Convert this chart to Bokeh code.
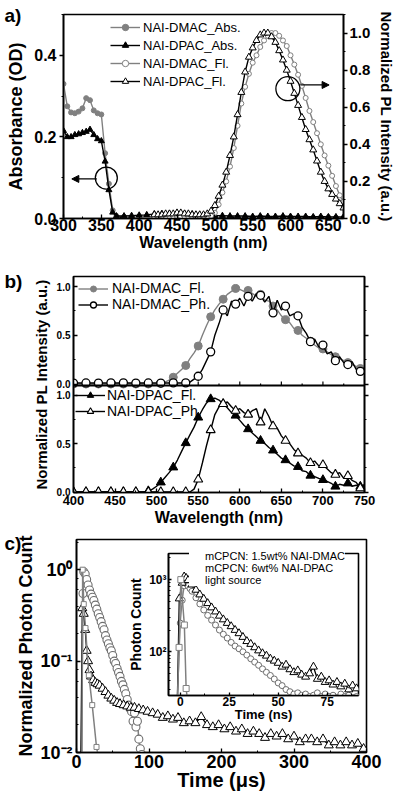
from bokeh.plotting import figure
from bokeh.models import (Range1d, LinearAxis, Legend, LegendItem, SingleIntervalTicker,
                          FixedTicker, CustomJSTickFormatter, NumeralTickFormatter, Arrow,
                          NormalHead, Span, GridBox, LogTicker, Column)
from bokeh.core.properties import value
from bokeh.embed import file_html
from bokeh.resources import INLINE

FONT = "Liberation Sans"
GRAY = "#808080"

# ---------------- panel a data ----------------
abs_wl = [300, 305, 310, 315, 320, 325, 330, 335, 340, 345, 350, 355, 360, 365, 370,
          380, 390, 400, 410, 420, 430, 440, 450, 460, 470, 480, 490, 500, 510, 520,
          530, 540, 550, 560, 570, 580, 590, 600, 610, 620, 630, 640, 650, 660, 670]
dmac_abs = [0.33, 0.275, 0.26, 0.258, 0.262, 0.27, 0.295, 0.29, 0.265, 0.258, 0.255, 0.16, 0.085, 0.02, 0.006,
            0.004, 0.003, 0.003, 0.003, 0.004, 0.003, 0.003, 0.004, 0.003, 0.003, 0.003, 0.002, 0.003, 0.003, 0.002,
            0.003, 0.002, 0.002, 0.003, 0.002, 0.002, 0.002, 0.003, 0.002, 0.002, 0.002, 0.002, 0.003, 0.002, 0.002]
dpac_abs = [0.215, 0.20, 0.20, 0.205, 0.207, 0.21, 0.213, 0.218, 0.205, 0.195, 0.19, 0.14, 0.07, 0.015, 0.006,
            0.006, 0.007, 0.008, 0.009, 0.011, 0.012, 0.012, 0.013, 0.012, 0.011, 0.009, 0.008, 0.007, 0.007, 0.006,
            0.006, 0.006, 0.005, 0.006, 0.005, 0.005, 0.006, 0.005, 0.005, 0.005, 0.004, 0.005, 0.004, 0.004, 0.004]
fl_wl = [420, 425, 430, 435, 440, 445, 450, 455, 460, 465, 470, 475, 480, 485, 490,
         495, 500, 505, 510, 515, 520, 525, 530, 535, 540, 545, 550, 555, 560, 565,
         570, 575, 580, 585, 590, 595, 600, 605, 610, 615, 620, 625, 630, 635, 640,
         645, 650, 655, 660, 665, 670]
dmac_fl = [0.01, 0.01, 0.01, 0.012, 0.012, 0.012, 0.012, 0.012, 0.01, 0.01, 0.01, 0.01, 0.01, 0.01, 0.012,
           0.015, 0.03, 0.075, 0.14, 0.20, 0.28, 0.38, 0.50, 0.62, 0.71, 0.78, 0.84, 0.88, 0.925, 0.96,
           0.985, 1.0, 1.0, 0.985, 0.96, 0.93, 0.88, 0.83, 0.775, 0.715, 0.65, 0.58, 0.52, 0.46, 0.40,
           0.34, 0.285, 0.23, 0.175, 0.125, 0.09]
dpac_fl = [0.02, 0.02, 0.02, 0.025, 0.025, 0.025, 0.03, 0.03, 0.025, 0.025, 0.02, 0.02, 0.02, 0.02, 0.025,
           0.04, 0.07, 0.12, 0.18, 0.25, 0.34, 0.44, 0.56, 0.68, 0.79, 0.87, 0.92, 0.96, 0.99, 1.0,
           1.0, 0.98, 0.95, 0.905, 0.855, 0.80, 0.74, 0.675, 0.61, 0.545, 0.48, 0.425, 0.37, 0.31, 0.25,
           0.20, 0.16, 0.13, 0.105, 0.08, 0.057]
ann_abs = dict(cx=356.6, cy=0.099, x0=344, x1=311, y=0.097)
ann_pl = dict(cx=596.5, cy=0.70, x0=613, x1=651, y=0.72)

# ---------------- panel b data ----------------
wl_b = list(range(400, 755, 5))
b_dmac_fl = [0, 0, 0, 0, 0, 0, 0, 0, 0, 0,
             0, 0, 0, 0, 0, 0, 0, 0, 0, 0,
             0, 0.005,
             0.02, 0.04, 0.07, 0.11, 0.15, 0.19, 0.26, 0.32, 0.39, 0.50,
             0.60, 0.69, 0.76, 0.82, 0.87, 0.92, 0.95, 0.98, 0.97, 0.95,
             0.96, 0.93, 0.90, 0.92, 0.86, 0.85, 0.80, 0.76, 0.70, 0.66,
             0.63, 0.57, 0.55, 0.50, 0.47, 0.44, 0.40, 0.37, 0.36, 0.33,
             0.30, 0.28, 0.26, 0.24, 0.22, 0.20, 0.18, 0.16, 0.15]
b_dmac_ph = [0.01, 0.012, 0.01, 0.011, 0.01, 0.012, 0.01, 0.011, 0.01, 0.012,
             0.01, 0.011, 0.012, 0.01, 0.011, 0.01, 0.012, 0.01, 0.011, 0.01,
             0.012, 0.01, 0.011, 0.01, 0.012, 0.01, 0.011, 0.012,
             0.02, 0.05, 0.08, 0.15, 0.24, 0.33, 0.50, 0.62, 0.76, 0.70,
             0.85, 0.82, 0.88, 0.80, 0.90, 0.85, 0.93, 0.91, 0.84, 0.90,
             0.73, 0.86, 0.76, 0.80, 0.70, 0.72, 0.70, 0.58, 0.52, 0.435,
             0.46, 0.38, 0.40, 0.31, 0.33, 0.24, 0.28, 0.22, 0.20, 0.23,
             0.15, 0.13, 0.17]
b_dpac_fl = [0, 0, 0, 0, 0, 0, 0, 0, 0, 0,
             0, 0, 0, 0, 0, 0, 0, 0,
             0.01, 0.03, 0.06, 0.10, 0.15, 0.20, 0.255, 0.33, 0.42, 0.506,
             0.59, 0.67, 0.77, 0.85, 0.92, 0.96, 0.97, 0.95, 0.91, 0.87,
             0.82, 0.79, 0.74, 0.69, 0.65, 0.61, 0.57, 0.53, 0.50, 0.46,
             0.43, 0.39, 0.35, 0.33, 0.30, 0.27, 0.26, 0.22, 0.21, 0.17,
             0.16, 0.14, 0.125, 0.11, 0.09, 0.057, 0.08, 0.07, 0.09, 0.06,
             0.07, 0.057, 0.05]
b_dpac_ph = [0, 0, 0, 0, 0, 0, 0, 0, 0, 0,
             0, 0, 0, 0, 0, 0, 0, 0, 0, 0,
             0, 0, 0, 0, 0, 0, 0, 0, 0,
             0.03, 0.13, 0.30, 0.48, 0.64, 0.80, 0.88, 0.91, 0.93, 0.88,
             0.84, 0.86, 0.82, 0.80, 0.84, 0.86, 0.72, 0.86, 0.78, 0.68,
             0.66, 0.58, 0.53, 0.50, 0.44, 0.40, 0.38, 0.35, 0.30, 0.32,
             0.27, 0.28, 0.24, 0.20, 0.18, 0.20, 0.14, 0.166, 0.12, 0.10,
             0.04, 0.08]
B_UP = (-0.015, 1.103)
B_LO = (-0.005, 1.10)
B_SPLIT = 107 / 216

# ---------------- panel c data ----------------
c_dmac_t = [7, 9, 10, 12, 14, 16, 18, 20, 22, 24, 26, 28, 30, 32, 34, 36, 38, 40, 42, 44, 46, 48,
            50, 52, 54, 56, 58, 60, 62, 64, 66, 68, 70, 72, 74, 76, 78, 80, 82, 84, 86, 88, 90]
c_dmac = [0.009, 0.55, 0.95,
          0.90, 0.78, 0.68, 0.60, 0.54, 0.50, 0.46, 0.41, 0.37, 0.33,
          0.30, 0.27, 0.24, 0.22, 0.19, 0.17, 0.155, 0.14, 0.13, 0.115,
          0.10, 0.094, 0.083, 0.075, 0.068, 0.06, 0.055, 0.049, 0.044, 0.038,
          0.033, 0.03, 0.028, 0.022, 0.027, 0.019, 0.022, 0.014, 0.011, 0.0095]
c_dpac_t = [6, 8, 10, 12, 14, 16, 18, 20, 23, 26, 29, 32, 36, 40, 44, 48, 52, 56, 60,
            65, 70, 75, 80, 86, 92, 98, 105, 112, 119, 126, 133, 140,
            148, 156, 164, 172, 180, 188, 196, 204, 212, 220, 228, 236, 244, 252, 260, 268,
            276, 284, 292, 300, 308, 316, 324, 332, 340, 348, 356, 364, 372, 380, 388, 396]
c_dpac = [0.009, 0.38, 0.33, 0.22, 0.13, 0.10, 0.08, 0.068,
          0.062, 0.058, 0.056, 0.054,
          0.05, 0.046, 0.042, 0.039, 0.037, 0.035, 0.034,
          0.033, 0.032, 0.031, 0.031,
          0.030, 0.029, 0.028,
          0.027, 0.026, 0.024, 0.025, 0.023, 0.024,
          0.021, 0.022, 0.021, 0.0245, 0.020, 0.019, 0.020, 0.018, 0.019, 0.017, 0.018, 0.016,
          0.017, 0.016, 0.0145, 0.016, 0.015, 0.016, 0.014, 0.015, 0.013, 0.014, 0.014, 0.013,
          0.014, 0.012, 0.013, 0.012, 0.013, 0.012, 0.0125, 0.011]
c_ls_t = [7.5, 8.5, 10, 12.4, 17, 21.7, 27.6, 30]
c_ls = [0.009, 1.0, 0.42, 0.23, 0.07, 0.033, 0.0115, 0.009]

i_dmac_t = [-1.5, 0, 1, 2, 3, 4, 5, 6, 8, 10, 12, 14, 16, 18, 20, 22, 24, 26, 28, 30, 32, 34, 36,
            38, 40, 42, 44, 46, 48, 50, 52, 54, 56, 58, 60, 62, 64, 66, 68, 70, 72, 74, 76, 78,
            80, 82, 84, 86, 88, 90]
i_dmac = [20, 250, 518, 820, 880, 820, 750, 690,
          560, 460, 380, 320, 275, 235, 200, 175, 155, 135,
          120, 110, 100, 90, 80, 72, 65, 58, 52, 47,
          42, 37, 34, 30, 28, 26, 27, 25, 26, 24,
          25, 27, 24, 26, 24, 25, 23, 26, 24, 25, 23, 24]
i_dpac_t = [-1.5, -0.5, 1, 2, 3, 4, 6, 8, 10, 12, 14, 16, 18, 20, 22, 24, 26, 28, 30, 32, 34, 36,
            38, 40, 42, 44, 46, 48, 50, 52, 54, 56, 58, 60, 62, 64, 66, 68, 70, 72, 74, 76, 78,
            80, 82, 84, 86, 88, 90]
i_dpac = [20, 546, 900, 1100, 1050, 980,
          850, 720, 620, 540, 470, 410, 360, 315, 280, 250,
          225, 200, 180, 160, 140, 128, 115, 104, 95, 88,
          80, 75, 70, 62, 66, 57, 52, 55, 48, 45,
          50, 62, 42, 45, 38, 40, 35, 38, 33, 36, 30, 34, 31]
i_ls_t = [-1.5, -0.6, 0.3, 2.1, 3.0, 4.0]
i_ls = [20, 115, 1000, 235, 31, 18]

# panel letters (page px from top-left)
letters = ["a)", "b)", "c)"]
letter_x = [4, 4, 4]
letter_y = [4, 270, 532]


def style_axis(ax, tick_size, tick_in=0, tick_out=4, minor_in=0, minor_out=2,
               standoff=2, label_size=None, label_standoff=3):
    ax.axis_line_width = 1.6
    ax.axis_line_color = "black"
    ax.major_tick_line_width = 1.3
    ax.minor_tick_line_width = 1.0
    ax.major_tick_line_color = "black"
    ax.minor_tick_line_color = "black"
    ax.major_tick_in = tick_in
    ax.major_tick_out = tick_out
    ax.minor_tick_in = minor_in
    ax.minor_tick_out = minor_out
    ax.major_label_text_font = FONT
    ax.major_label_text_font_style = "bold"
    ax.major_label_text_font_size = f"{tick_size}px"
    ax.major_label_text_color = "black"
    ax.major_label_standoff = standoff
    ax.axis_label_text_font = FONT
    ax.axis_label_text_font_style = "bold"
    ax.axis_label_text_color = "black"
    if label_size:
        ax.axis_label_text_font_size = f"{label_size}px"
    ax.axis_label_standoff = label_standoff


def base(p):
    p.xgrid.visible = False
    p.ygrid.visible = False
    p.outline_line_color = "black"
    p.outline_line_width = 1.6


sup_fmt = CustomJSTickFormatter(code="""
const e = Math.round(Math.log10(tick));
const m = {"-": "\\u207b", "0": "\\u2070", "1": "\\u00b9", "2": "\\u00b2", "3": "\\u00b3", "4": "\\u2074"};
return "10" + String(e).split("").map(c => m[c]).join("");
""")

# ================= panel a =================
pa = figure(frame_width=280, frame_height=204, x_range=Range1d(300, 670), y_range=Range1d(0, 0.5),
            output_backend="svg", toolbar_location=None,
            min_border_left=63, min_border_right=55, min_border_top=14, min_border_bottom=44)
base(pa)
pa.extra_y_ranges = {"pl": Range1d(0, 1.1)}
pa.xaxis.ticker = SingleIntervalTicker(interval=50, num_minor_ticks=2)
pa.yaxis.ticker = SingleIntervalTicker(interval=0.2, num_minor_ticks=2)
pa.yaxis.formatter = NumeralTickFormatter(format="0.0")
pa.xaxis.axis_label = "Wavelength (nm)"
pa.yaxis.axis_label = "Absorbance (OD)"
style_axis(pa.xaxis[0], 16, tick_in=4, tick_out=0, minor_in=2, minor_out=0, standoff=0,
           label_size=16, label_standoff=0)
style_axis(pa.yaxis[0], 16, tick_in=0, tick_out=4, standoff=3, label_size=18, label_standoff=5)
ra = LinearAxis(y_range_name="pl", ticker=SingleIntervalTicker(interval=0.2, num_minor_ticks=2),
                formatter=NumeralTickFormatter(format="0.0"),
                axis_label="Normalized PL Intensity (a.u.)")
style_axis(ra, 15, tick_in=0, tick_out=4, standoff=2, label_size=15, label_standoff=5)
pa.add_layout(ra, "right")

a1l = pa.line(abs_wl, dmac_abs, line_color=GRAY, line_width=1.4)
a1s = pa.scatter(abs_wl, dmac_abs, marker="circle", size=5, fill_color=GRAY, line_color=GRAY)
a2l = pa.line(abs_wl, dpac_abs, line_color="black", line_width=1.4)
a2s = pa.scatter(abs_wl, dpac_abs, marker="triangle", size=6, fill_color="black", line_color="black")
a3l = pa.line(fl_wl, dmac_fl, y_range_name="pl", line_color=GRAY, line_width=1.4)
a3s = pa.scatter(fl_wl, dmac_fl, y_range_name="pl", marker="circle", size=5,
                 fill_color="white", line_color=GRAY, line_width=1)
a4l = pa.line(fl_wl, dpac_fl, y_range_name="pl", line_color="black", line_width=1.4)
a4s = pa.scatter(fl_wl, dpac_fl, y_range_name="pl", marker="triangle", size=7,
                 fill_color="white", line_color="black", line_width=1)

pa.circle(x=[ann_abs["cx"]], y=[ann_abs["cy"]], radius=11, radius_units="screen",
          fill_color=None, line_color="black", line_width=1.3)
pa.add_layout(Arrow(end=NormalHead(size=7, fill_color="black", line_color="black"),
                    x_start=ann_abs["x0"], y_start=ann_abs["y"], x_end=ann_abs["x1"], y_end=ann_abs["y"],
                    line_width=1.3))
pa.circle(x=[ann_pl["cx"]], y=[ann_pl["cy"]], radius=12, radius_units="screen", y_range_name="pl",
          fill_color=None, line_color="black", line_width=1.3)
pa.add_layout(Arrow(end=NormalHead(size=7, fill_color="black", line_color="black"),
                    x_start=ann_pl["x0"], y_start=ann_pl["y"], x_end=ann_pl["x1"], y_end=ann_pl["y"],
                    y_range_name="pl", line_width=1.3))

pa.add_layout(Legend(items=[LegendItem(label="NAI-DMAC_Abs.", renderers=[a1l, a1s]),
                            LegendItem(label="NAI-DPAC_Abs.", renderers=[a2l, a2s]),
                            LegendItem(label="NAI-DMAC_Fl.", renderers=[a3l, a3s]),
                            LegendItem(label="NAI-DPAC_Fl.", renderers=[a4l, a4s])],
                     location=(47, 129), padding=0, margin=0, spacing=2, label_height=16, glyph_height=16,
                     glyph_width=30, label_standoff=3, border_line_color=None, background_fill_alpha=0,
                     label_text_font=FONT, label_text_font_size="13px", label_text_color="black"))

# ================= panel b =================
lo_span = (B_LO[1] - B_LO[0]) / B_SPLIT
up_span = (B_UP[1] - B_UP[0]) / (1 - B_SPLIT)
L0, L1 = B_LO[0], B_LO[0] + lo_span
U0, U1 = B_UP[1] - up_span, B_UP[1]


def up_to_lo(u):
    return L0 + (u - U0) / up_span * lo_span


pb = figure(frame_width=291, frame_height=216, x_range=Range1d(400, 750), y_range=Range1d(L0, L1),
            output_backend="svg", toolbar_location=None,
            min_border_left=73, min_border_right=34, min_border_top=14, min_border_bottom=38)
base(pb)
pb.extra_y_ranges = {"up": Range1d(U0, U1)}
tick_b = FixedTicker(ticks=[0, 0.5, 1.0] + [up_to_lo(u) for u in (0, 0.5, 1.0)],
                     minor_ticks=[0.25, 0.75] + [up_to_lo(u) for u in (0.25, 0.75)])
fmt_b = CustomJSTickFormatter(args=dict(split=B_LO[1], l0=L0, ls=lo_span, u0=U0, us=up_span), code="""
let v = tick;
if (tick > split) { v = u0 + (tick - l0) / ls * us; }
return (Math.round(v * 10) / 10).toFixed(1);
""")
pb.yaxis.ticker = tick_b
pb.yaxis.formatter = fmt_b
pb.yaxis.axis_label = "Normalized PL Intensity (a.u.)"
pb.xaxis.ticker = SingleIntervalTicker(interval=50, num_minor_ticks=2)
pb.xaxis.axis_label = "Wavelength (nm)"
style_axis(pb.xaxis[0], 13, tick_in=4, tick_out=0, minor_in=2, minor_out=0, standoff=3,
           label_size=16, label_standoff=1)
style_axis(pb.yaxis[0], 10, tick_in=4, tick_out=0, minor_in=2, minor_out=0, standoff=3,
           label_size=15, label_standoff=4)
rb = LinearAxis(ticker=tick_b, formatter=CustomJSTickFormatter(code="return '';"))
style_axis(rb, 10, tick_in=0, tick_out=4, minor_in=0, minor_out=2, standoff=0)
pb.add_layout(rb, "right")
pb.add_layout(Span(location=B_LO[1], dimension="width", line_color="black", line_width=2))
# tick marks of the upper sub-panel's wavelength axis, sitting on the divider line
sep_x = list(range(425, 750, 25))
sep_len = [4 / 97.5 if x % 50 == 0 else 2 / 97.5 for x in sep_x]
pb.segment(x0=sep_x, x1=sep_x, y0=[B_UP[0]] * len(sep_x), y1=[B_UP[0] + d for d in sep_len],
           y_range_name="up", line_color="black", line_width=1.2)

b1l = pb.line(wl_b, b_dmac_fl, y_range_name="up", line_color=GRAY, line_width=1.4)
b1s = pb.scatter(wl_b[::3], b_dmac_fl[::3], y_range_name="up", marker="circle", size=8,
                 fill_color=GRAY, line_color=GRAY)
b2l = pb.line(wl_b, b_dmac_ph, y_range_name="up", line_color="black", line_width=1.4)
b2s = pb.scatter(wl_b[::3], b_dmac_ph[::3], y_range_name="up", marker="circle", size=8,
                 fill_color="white", line_color="black", line_width=1.3)
b3l = pb.line(wl_b, b_dpac_fl, line_color="black", line_width=1.4)
b3s = pb.scatter(wl_b[::3], b_dpac_fl[::3], marker="triangle", size=9,
                 fill_color="black", line_color="black")
b4l = pb.line(wl_b, b_dpac_ph, line_color="black", line_width=1.4)
b4s = pb.scatter(wl_b[::3], b_dpac_ph[::3], marker="triangle", size=9,
                 fill_color="white", line_color="black", line_width=1.1)

leg_kw = dict(padding=0, margin=0, spacing=0, glyph_width=30, border_line_color=None,
              background_fill_alpha=0, label_text_font=FONT, label_text_font_size="14px",
              label_text_color="black")
pb.add_layout(Legend(items=[LegendItem(label="NAI-DMAC_Fl.", renderers=[b1l, b1s]),
                            LegendItem(label="NAI-DMAC_Ph.", renderers=[b2l, b2s])],
                     location=(5, 180), label_height=15, glyph_height=15, label_standoff=4, **leg_kw))
pb.add_layout(Legend(items=[LegendItem(label="NAI-DPAC_Fl.", renderers=[b3l, b3s]),
                            LegendItem(label="NAI-DPAC_Ph.", renderers=[b4l, b4s])],
                     location=(2, 73), label_height=16, glyph_height=16, label_standoff=2, **leg_kw))

# ================= panel c (main) =================
pc = figure(frame_width=290, frame_height=213, x_range=Range1d(0, 400), y_range=Range1d(0.01, 2.14),
            y_axis_type="log", output_backend="svg", toolbar_location=None,
            min_border_left=76, min_border_right=32, min_border_top=9, min_border_bottom=46)
base(pc)
pc.xaxis.ticker = SingleIntervalTicker(interval=100, num_minor_ticks=2)
pc.yaxis.ticker = LogTicker()
pc.yaxis.formatter = sup_fmt
pc.xaxis.axis_label = "Time (\u03bcs)"
pc.yaxis.axis_label = "Normalized Photon Count"
style_axis(pc.xaxis[0], 18, tick_in=4, tick_out=0, minor_in=2, minor_out=0, standoff=2,
           label_size=20, label_standoff=-2)
style_axis(pc.yaxis[0], 18, tick_in=4, tick_out=0, minor_in=2, minor_out=0, standoff=4,
           label_size=18, label_standoff=1)

pc.line(c_dmac_t, c_dmac, line_color=GRAY, line_width=1.5)
pc.scatter(c_dmac_t, c_dmac, marker="circle", size=8, fill_color="white", line_color="#6e6e6e", line_width=1.1)
pc.line(c_dpac_t, c_dpac, line_color="black", line_width=1.3)
pc.scatter(c_dpac_t, c_dpac, marker="triangle", size=9, fill_color="white", line_color="black", line_width=1)
pc.line(c_ls_t, c_ls, line_color=GRAY, line_width=1.5)
pc.scatter(c_ls_t, c_ls, marker="square", size=5, fill_color="white", line_color=GRAY, line_width=1)

# ================= panel c (inset) =================
pi = figure(frame_width=190, frame_height=142, x_range=Range1d(-6, 91), y_range=Range1d(24.8, 2300),
            y_axis_type="log", output_backend="svg", toolbar_location=None,
            min_border_left=38, min_border_right=4, min_border_top=9, min_border_bottom=28)
base(pi)
pi.border_fill_alpha = 0
pi.background_fill_color = "white"
pi.xaxis.ticker = SingleIntervalTicker(interval=25, num_minor_ticks=2)
pi.yaxis.ticker = FixedTicker(ticks=[100, 1000],
                              minor_ticks=[m * 10 ** e for e in (1, 2, 3) for m in range(2, 10)])
pi.yaxis.formatter = sup_fmt
pi.xaxis.axis_label = "Time (ns)"
pi.yaxis.axis_label = "Photon Count"
style_axis(pi.xaxis[0], 12, tick_in=3, tick_out=0, minor_in=2, minor_out=0, standoff=1,
           label_size=13, label_standoff=-2)
style_axis(pi.yaxis[0], 12, tick_in=3, tick_out=0, minor_in=2, minor_out=0, standoff=2,
           label_size=14, label_standoff=2)

line_kw = [dict(line_color=GRAY, line_width=1.3), dict(line_color="black", line_width=1.3),
           dict(line_color=GRAY, line_width=1.5)]
mark_kw = [dict(marker="circle", size=6, fill_color="white", line_color="#6e6e6e", line_width=1),
           dict(marker="triangle", size=8, fill_color="white", line_color="black", line_width=1),
           dict(marker="square", size=6, fill_color="white", line_color=GRAY, line_width=1)]
for (tt, vv), lk, mk in zip([(i_dmac_t, i_dmac), (i_dpac_t, i_dpac), (i_ls_t, i_ls)], line_kw, mark_kw):
    pi.line(tt, vv, **lk)
    pi.scatter(tt, vv, **mk)

# ================= overlay for panel letters and the inset legend =================
po = figure(width=398, height=780, x_range=Range1d(0, 398), y_range=Range1d(780, 0),
            output_backend="svg", toolbar_location=None, min_border=0,
            x_axis_location=None, y_axis_location=None)
po.xgrid.visible = False
po.ygrid.visible = False
po.outline_line_color = None
po.background_fill_alpha = 0
po.border_fill_alpha = 0
po.text(x=letter_x, y=letter_y, text=letters, text_font=value(FONT), text_font_style="bold",
        text_font_size="19px", text_baseline="top", text_align="left", text_color="black")
leg_labels = ["mCPCN: 1.5wt% NAI-DMAC", "mCPCN: 6wt% NAI-DPAC", "light source"]
items = []
for lab, lk, mk in zip(leg_labels, line_kw, mark_kw):
    rl = po.line([], [], **lk)
    rs = po.scatter([], [], **mk)
    items.append(LegendItem(label=lab, renderers=[rl, rs]))
po.add_layout(Legend(items=items, location=(189, 194), padding=2, margin=0, spacing=0, label_height=12,
                     glyph_height=12, glyph_width=14, label_standoff=2, border_line_color=None,
                     background_fill_color="white", background_fill_alpha=1,
                     label_text_font=FONT, label_text_font_size="11px", label_text_color="black"))

wa = Column(children=[pa])
wb = Column(children=[pb])
wc = Column(children=[pc])
wi = Column(children=[pi], margin=(14, 0, 0, 125))
layout = GridBox(children=[(wa, 0, 0), (wb, 1, 0), (wc, 2, 0), (wi, 2, 0), (po, 0, 0, 3, 1)])

open("out.html", "w").write(file_html(layout, INLINE))
